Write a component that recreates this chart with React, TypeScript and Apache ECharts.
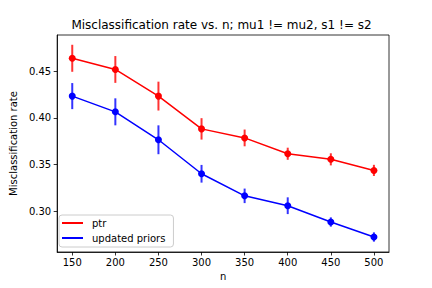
import React, { useEffect, useRef } from "react";
import * as echarts from "echarts";

const nValues = [150, 200, 250, 300, 350, 400, 450, 500];
const ptrMean = [0.464, 0.452, 0.4234, 0.3882, 0.3785, 0.3615, 0.3555, 0.3436];
const ptrErr = [0.0145, 0.0144, 0.0155, 0.0115, 0.009, 0.0065, 0.0065, 0.006];
const priorsMean = [0.4234, 0.4065, 0.3765, 0.34, 0.3163, 0.3057, 0.2882, 0.2721];
const priorsErr = [0.014, 0.0145, 0.0155, 0.0095, 0.0078, 0.009, 0.005, 0.005];
const xTicks = [150, 200, 250, 300, 350, 400, 450, 500];
const yTicks = [0.3, 0.35, 0.4, 0.45];

const FONT = "DejaVu Sans";

function errSeries(color: string, means: number[], errs: number[]) {
  return {
    type: "custom",
    silent: true,
    z: 3,
    data: nValues.map((n, i) => [n, means[i] - errs[i], means[i] + errs[i]]),
    encode: { x: 0, y: [1, 2] },
    renderItem: (_params: any, api: any) => {
      const x = api.value(0);
      const p1 = api.coord([x, api.value(1)]);
      const p2 = api.coord([x, api.value(2)]);
      return {
        type: "line",
        shape: { x1: p1[0], y1: p1[1], x2: p2[0], y2: p2[1] },
        style: { stroke: color, lineWidth: 2 },
      };
    },
  };
}

export default function App() {
  const ref = useRef<HTMLDivElement>(null);
  useEffect(() => {
    if (!ref.current) return;
    const chart = echarts.init(ref.current, null, { renderer: "svg" });
    chart.setOption({
      animation: false,
      backgroundColor: "#ffffff",
      grid: {
        left: 54,
        right: 43,
        top: 35,
        bottom: 36,
        show: true,
        borderColor: "#000",
        borderWidth: 0.8,
        backgroundColor: "#fff",
      },
      graphic: [
        {
          type: "text",
          x: 221.5,
          y: 25,
          style: {
            text: "Misclassification rate vs. n; mu1 != mu2, s1 != s2",
            fontFamily: FONT,
            fontSize: 12,
            fill: "#000",
            align: "center",
            verticalAlign: "middle",
          },
        },
      ],
      legend: {
        left: 59,
        top: 215,
        orient: "vertical",
        itemWidth: 21,
        itemHeight: 2,
        itemGap: 3,
        icon: "rect",
        padding: [2, 8, 3, 3],
        backgroundColor: "#fff",
        borderColor: "#cccccc",
        borderWidth: 1,
        borderRadius: 3,
        textStyle: {
          fontFamily: FONT,
          fontSize: 10,
          color: "#000",
          lineHeight: 12,
          padding: [0, 0, 0, 4],
        },
        data: ["ptr", "updated priors"],
      },
      xAxis: {
        type: "value",
        min: 132.5,
        max: 517.5,
        name: "n",
        nameLocation: "middle",
        nameGap: 19,
        nameTextStyle: { fontFamily: FONT, fontSize: 10, color: "#000" },
        splitLine: { show: false },
        axisLine: { show: true, lineStyle: { color: "#000", width: 0.8 } },
        axisTick: {
          show: true,
          length: 3.5,
          lineStyle: { color: "#000", width: 0.8 },
          customValues: xTicks,
        },
        axisLabel: {
          fontFamily: FONT,
          fontSize: 10,
          color: "#000",
          margin: 5,
          customValues: xTicks,
          formatter: (v: number) => String(v),
        },
      },
      yAxis: {
        type: "value",
        min: 0.256,
        max: 0.489,
        name: "Misclassification rate",
        nameLocation: "middle",
        nameGap: 33,
        nameTextStyle: { fontFamily: FONT, fontSize: 10, color: "#000" },
        splitLine: { show: false },
        axisLine: { show: true, lineStyle: { color: "#000", width: 0.8 } },
        axisTick: {
          show: true,
          length: 3.5,
          lineStyle: { color: "#000", width: 0.8 },
          customValues: yTicks,
        },
        axisLabel: {
          fontFamily: FONT,
          fontSize: 10,
          color: "#000",
          margin: 6,
          customValues: yTicks,
          formatter: (v: number) => v.toFixed(2),
        },
      },
      series: [
        {
          name: "ptr",
          type: "line",
          color: "#ff0000",
          data: nValues.map((n, i) => [n, ptrMean[i]]),
          symbol: "circle",
          symbolSize: 7,
          lineStyle: { width: 1.5, color: "#ff0000" },
          itemStyle: { color: "#ff0000" },
          z: 4,
        },
        {
          name: "updated priors",
          type: "line",
          color: "#0000ff",
          data: nValues.map((n, i) => [n, priorsMean[i]]),
          symbol: "circle",
          symbolSize: 7,
          lineStyle: { width: 1.5, color: "#0000ff" },
          itemStyle: { color: "#0000ff" },
          z: 4,
        },
        errSeries("rgba(255,0,0,0.8)", ptrMean, ptrErr),
        errSeries("rgba(0,0,255,0.8)", priorsMean, priorsErr),
      ],
    });
    return () => chart.dispose();
  }, []);
  return (
    <div
      ref={ref}
      style={{ position: "absolute", left: 0, top: 0, width: 432, height: 288 }}
    />
  );
}
